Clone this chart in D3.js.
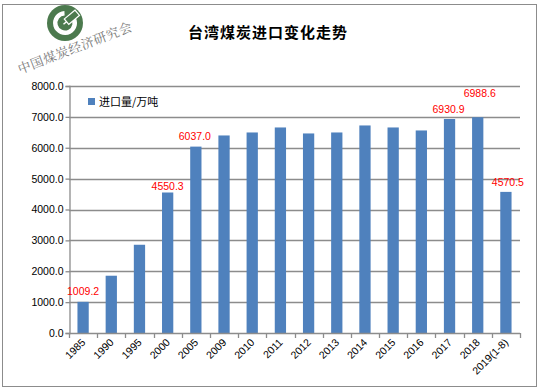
<!DOCTYPE html>
<html><head><meta charset="utf-8">
<script src="https://cdn.jsdelivr.net/npm/d3@7/dist/d3.min.js"></script>
<style>body{margin:0;background:#fff;}svg{display:block;}</style>
</head><body>
<svg id="c" width="542" height="391"></svg>
<script>
const categories = ["1985","1990","1995","2000","2005","2009","2010","2011","2012","2013","2014","2015","2016","2017","2018","2019(1-8)"];
const imports = [1009.2,1855,2858,4550.3,6037.0,6398,6495,6657,6463,6495,6722,6657,6560,6930.9,6988.6,4570.5];
const labeledCategories = ["1985","2000","2005","2017","2018","2019(1-8)"];
const yTicks = [0,1000,2000,3000,4000,5000,6000,7000,8000];
const title = "台湾煤炭进口变化走势";
const seriesName = "进口量/万吨";
const logoText = "中国煤炭经济研究会";

// label placement tweaks (px above bar top, horizontal shift)
const labelLift = {"1985":7,"2000":3,"2005":7,"2017":6,"2018":20,"2019(1-8)":6};
const labelShift = {"1985":0,"2000":0,"2005":-1,"2017":-1,"2018":2,"2019(1-8)":2};

const svg = d3.select("#c");
const font = "'Liberation Sans', Arial, sans-serif";
const cjk = "'Noto Sans CJK SC', sans-serif";

svg.append("rect").attr("x",2.5).attr("y",4.5).attr("width",534).attr("height",382)
  .attr("fill","#fff").attr("stroke","#8c8c8c").attr("stroke-width",1);

const x = d3.scaleBand().domain(categories).range([69,520]).paddingInner(0.6).paddingOuter(0.3);
const y = d3.scaleLinear().domain([0,8000]).range([333,86]);

// gridlines
svg.append("g").selectAll("line").data(yTicks.slice(1)).join("line")
  .attr("x1",69).attr("x2",520).attr("y1",d=>Math.round(y(d))+0.5).attr("y2",d=>Math.round(y(d))+0.5)
  .attr("stroke","#8c8c8c").attr("stroke-width",1.3);

// y axis
const yAxis = svg.append("g").attr("transform","translate(69.5,0)")
  .call(d3.axisLeft(y).tickValues(yTicks).tickFormat(d3.format(".1f")).tickSize(4).tickPadding(2));
yAxis.selectAll("path,line").attr("stroke","#8c8c8c").attr("stroke-width",1.3);
yAxis.selectAll("text").attr("font-family",font).attr("font-size","10.5px").attr("fill","#000");
yAxis.selectAll(".tick line");

// bars
svg.append("g").selectAll("rect").data(categories).join("rect")
  .attr("x",d=>x(d)).attr("width",x.bandwidth())
  .attr("y",(d,i)=>y(imports[i])).attr("height",(d,i)=>y(0)-y(imports[i]))
  .attr("fill","#4f81bd");

// x axis
const step = x.step();
const xa = svg.append("g");
xa.append("line").attr("x1",69).attr("x2",520).attr("y1",333.5).attr("y2",333.5)
  .attr("stroke","#8c8c8c").attr("stroke-width",1.3);
const bounds = d3.range(categories.length+1).map(i=>69 + i*(451/categories.length));
xa.selectAll("line.t").data(bounds).join("line").attr("class","t")
  .attr("x1",d=>Math.round(d)+0.5).attr("x2",d=>Math.round(d)+0.5).attr("y1",333).attr("y2",338)
  .attr("stroke","#8c8c8c").attr("stroke-width",1.3);
xa.selectAll("text").data(categories).join("text")
  .attr("transform",d=>`translate(${x(d)+x.bandwidth()/2+3},${343}) rotate(-45)`)
  .attr("text-anchor","end").attr("font-family",font).attr("font-size","10.5px").attr("fill","#000")
  .text(d=>d);

// data labels
svg.append("g").selectAll("text").data(labeledCategories).join("text")
  .attr("x",d=>x(d)+x.bandwidth()/2+labelShift[d])
  .attr("y",d=>y(imports[categories.indexOf(d)])-labelLift[d])
  .attr("text-anchor","middle").attr("font-family",font).attr("font-size","10.5px").attr("fill","#ff0000")
  .text(d=>d3.format(".1f")(imports[categories.indexOf(d)]));

// legend
svg.append("rect").attr("x",88).attr("y",98).attr("width",7).attr("height",7).attr("fill","#4f81bd");
svg.append("text").attr("x",99).attr("y",106).attr("font-family",cjk).attr("font-size","11px").attr("fill","#000").text(seriesName);

// title
svg.append("text").attr("x",268).attr("y",38).attr("text-anchor","middle")
  .attr("font-family",cjk).attr("font-size","15px").attr("font-weight","bold").attr("letter-spacing","1px")
  .attr("fill","#000").text(title);

// logo
const lg = svg.append("g").attr("transform","translate(65,23)");
lg.append("circle").attr("r",18).attr("fill","#4c7a4e");
lg.append("path").attr("d",d3.arc().innerRadius(7.5).outerRadius(12).startAngle(Math.PI*0.28).endAngle(Math.PI*2-0.05)())
  .attr("fill","#fff");
lg.append("g").attr("transform","rotate(-40)").call(g=>{
  g.append("rect").attr("x",2).attr("y",-3.5).attr("width",14).attr("height",7).attr("fill","#4c7a4e").attr("stroke","#fff").attr("stroke-width",1.2);
  g.append("line").attr("x1",-2).attr("y1",0).attr("x2",2).attr("y2",0).attr("stroke","#fff").attr("stroke-width",1.5);
});
svg.append("text").attr("transform","translate(20,74) rotate(-21)")
  .attr("font-family","'Noto Serif CJK SC','Noto Sans CJK SC',serif").attr("font-size","13px").attr("fill","#777")
  .attr("letter-spacing","0.5px").text(logoText);
</script>
</body></html>
